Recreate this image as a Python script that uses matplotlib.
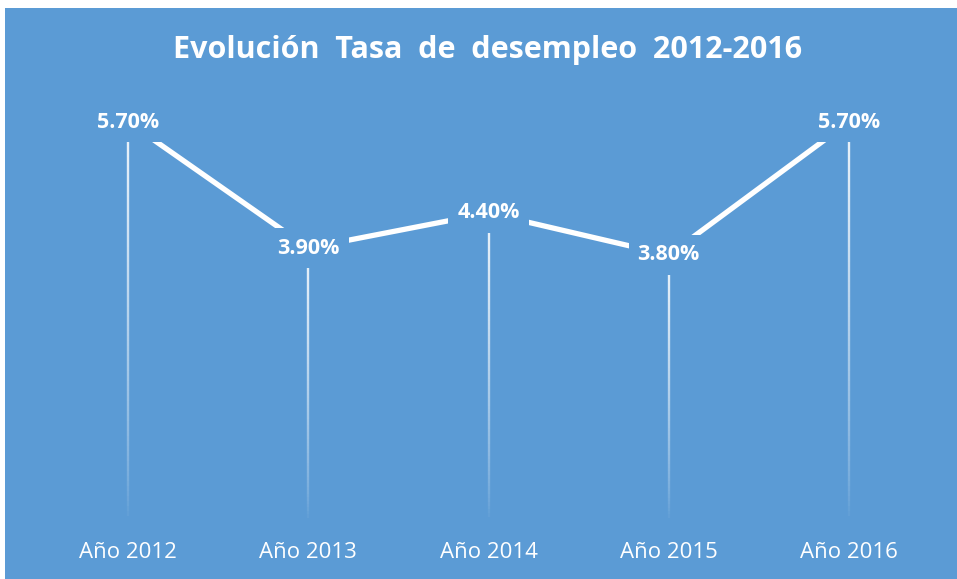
import matplotlib
matplotlib.use('Agg')
import matplotlib.pyplot as plt
from matplotlib.patches import Rectangle
from matplotlib.collections import LineCollection
import numpy as np

# Data
years = ['Año 2012', 'Año 2013', 'Año 2014', 'Año 2015', 'Año 2016']
rates = [5.7, 3.9, 4.4, 3.8, 5.7]
rate_labels = ['5.70%', '3.90%', '4.40%', '3.80%', '5.70%']

blue = '#5B9BD5'
font = 'Open Sans'

fig = plt.figure(figsize=(9.57, 5.79), dpi=100, facecolor='white')
# blue chart area with white margin on top/left
fig.patches.append(Rectangle((5 / 957, 0), 1, 1 - 8 / 579, transform=fig.transFigure,
                             facecolor=blue, edgecolor='none', zorder=-5))

ax = fig.add_axes([38 / 957, 1 - 521 / 579, 901 / 957, 420 / 579])
ax.set_facecolor('none')
ax.set_zorder(2)
x = np.arange(len(years))

# drop lines fading out to the bottom
for xi, v in zip(x, rates):
    n = 80
    ys = np.linspace(0, v, n + 1)
    segs = [[(xi, ys[k]), (xi, ys[k + 1])] for k in range(n)]
    alphas = 0.9 * (ys[:-1] / v) ** 0.7
    cols = [(1, 1, 1, a) for a in alphas]
    ax.add_collection(LineCollection(segs, colors=cols, linewidths=1.7, zorder=2))

ax.plot(x, rates, color='white', linewidth=3.8, solid_capstyle='butt', zorder=3)

for xi, v, lab in zip(x, rates, rate_labels):
    ax.text(xi, v, lab, ha='center', va='center', color='white', fontsize=15.5,
            fontweight='bold', family=font, zorder=4,
            bbox=dict(boxstyle='square,pad=0.42', facecolor=blue, edgecolor='none'))

ax.set_xlim(-0.5, len(years) - 0.5)
ax.set_ylim(0, 6)
ax.set_xticks(x)
ax.set_xticklabels(years, color='white', fontsize=16, family=font)
ax.tick_params(axis='x', length=0, pad=15)
ax.set_yticks([])
for s in ax.spines.values():
    s.set_visible(False)

fig.text(488 / 957, 1 - 50 / 579, 'Evolución  Tasa  de  desempleo  2012-2016', ha='center', va='center',
         color='white', fontsize=22, fontweight='bold', family=font, zorder=3)

fig.savefig('out.png', dpi=100, facecolor='white')
